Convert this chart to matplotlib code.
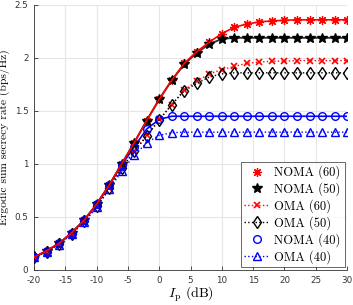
import numpy as np
import matplotlib
matplotlib.use('Agg')
import matplotlib.pyplot as plt

plt.rcParams['mathtext.fontset'] = 'cm'
plt.rcParams['font.family'] = ['cmr10', 'DejaVu Serif']
plt.rcParams['axes.formatter.use_mathtext'] = True

# transmit SNR grid (dB)
ip_db = np.arange(-20, 31, 2)

noma_60 = [0.12, 0.18, 0.25, 0.35, 0.47, 0.62, 0.80, 1.00, 1.20, 1.41, 1.61, 1.79, 1.95,
           2.06, 2.15, 2.23, 2.29, 2.32, 2.34, 2.35, 2.355, 2.36, 2.36, 2.36, 2.36, 2.36]
noma_50 = [0.12, 0.18, 0.25, 0.35, 0.47, 0.62, 0.80, 1.00, 1.20, 1.41, 1.61, 1.79, 1.94,
           2.05, 2.13, 2.18, 2.19, 2.19, 2.19, 2.19, 2.19, 2.19, 2.19, 2.19, 2.19, 2.19]
oma_60 = [0.12, 0.17, 0.245, 0.34, 0.46, 0.60, 0.77, 0.96, 1.12, 1.27, 1.42, 1.56, 1.70,
          1.78, 1.85, 1.89, 1.92, 1.95, 1.96, 1.97, 1.97, 1.975, 1.975, 1.975, 1.975, 1.975]
oma_50 = [0.12, 0.17, 0.245, 0.34, 0.46, 0.60, 0.77, 0.96, 1.12, 1.26, 1.415, 1.56, 1.69,
          1.76, 1.82, 1.85, 1.86, 1.86, 1.86, 1.86, 1.86, 1.86, 1.86, 1.86, 1.86, 1.86]
noma_40 = [0.12, 0.18, 0.25, 0.35, 0.47, 0.62, 0.80, 0.99, 1.16, 1.33, 1.42, 1.45, 1.45,
           1.45, 1.45, 1.45, 1.45, 1.45, 1.45, 1.45, 1.45, 1.45, 1.45, 1.45, 1.45, 1.45]
oma_40 = [0.12, 0.17, 0.24, 0.34, 0.45, 0.59, 0.76, 0.93, 1.08, 1.20, 1.27, 1.295, 1.30,
          1.30, 1.30, 1.30, 1.30, 1.30, 1.30, 1.30, 1.30, 1.30, 1.30, 1.30, 1.30, 1.30]

fig = plt.figure(figsize=(3.53, 3.05), dpi=100)
ax = fig.add_axes([0.0963, 0.1148, 0.887, 0.869])

ms = 5
asterisk = (8, 2, 0)

# analytical curves (solid, no legend)
ax.plot(ip_db, noma_40, '-', color='blue', lw=1.2, zorder=2)
ax.plot(ip_db, noma_50, '-', color='#333333', lw=1.4, zorder=2)

# markers / OMA dotted
ax.plot(ip_db, noma_60, ls='none', marker=asterisk, color='red', ms=ms + 1.5, mew=0.9,
        label='NOMA (60)', zorder=3)
ax.plot(ip_db, noma_50, ls='none', marker='*', color='black', ms=ms + 2,
        label='NOMA (50)', zorder=3)
ax.plot(ip_db, oma_60, ':', marker='x', color='red', ms=ms, mew=1.2, lw=1,
        label='OMA (60)', zorder=3)
ax.plot(ip_db, oma_50, ':', marker='d', color='black', mfc='none', ms=ms + 1, mew=1, lw=1,
        label='OMA (50)', zorder=3)
ax.plot(ip_db, noma_40, ls='none', marker='o', color='blue', mfc='none', ms=ms + 0.5, mew=1,
        label='NOMA (40)', zorder=3)
ax.plot(ip_db, oma_40, ':', marker='^', color='blue', mfc='none', ms=ms + 0.5, mew=1, lw=1,
        label='OMA (40)', zorder=3)

ax.plot(ip_db, noma_60, '-', color='red', lw=1.2, zorder=4)

ax.set_xlim(-20, 30)
ax.set_ylim(0, 2.5)
ax.set_xticks(np.arange(-20, 31, 5))
ax.set_yticks([0, 0.5, 1, 1.5, 2, 2.5])
ax.set_xticklabels(['-20', '-15', '-10', '-5', '0', '5', '10', '15', '20', '25', '30'])
ax.set_yticklabels(['0', '0.5', '1', '1.5', '2', '2.5'])
for lab in ax.get_xticklabels() + ax.get_yticklabels():
    lab.set_family('DejaVu Sans')
    lab.set_fontsize(6.3)
    lab.set_color('#333333')
ax.tick_params(direction='in', length=3, width=0.6, colors='#333333', pad=4)
ax.grid(True, color='#e6e6e6', lw=0.8)
ax.set_axisbelow(True)
for s in ['top', 'right']:
    ax.spines[s].set_visible(False)
for s in ['left', 'bottom']:
    ax.spines[s].set_linewidth(0.6)
    ax.spines[s].set_color('#333333')

ax.set_xlabel(r'$I_{\rm p}$ (dB)', fontsize=10, labelpad=0)
ax.set_ylabel('Ergodic sum secrecy rate (bps/Hz)', fontsize=8.3, labelpad=3)

leg = ax.legend(loc='lower right', fontsize=9, frameon=True, fancybox=False,
                edgecolor='#222222', borderaxespad=0.2, handlelength=2.0,
                handletextpad=0.4, borderpad=0.3, labelspacing=0.25)
leg.get_frame().set_linewidth(0.6)

fig.savefig('out.png', dpi=100)
